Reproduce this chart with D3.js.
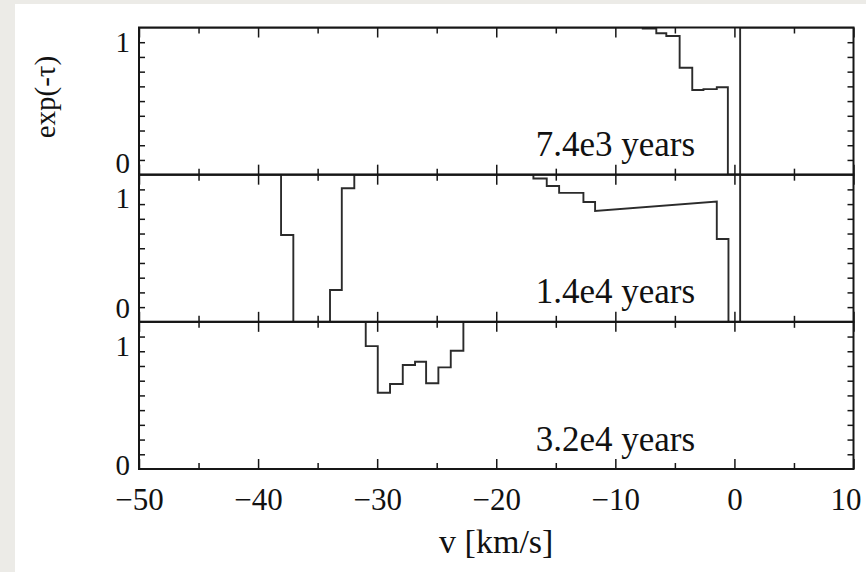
<!DOCTYPE html>
<html>
<head>
<meta charset="utf-8">
<script src="https://cdn.jsdelivr.net/npm/d3@7"></script>
<style>
  html, body { margin: 0; padding: 0; background: #ecebe7; }
  svg { display: block; }
  text { font-family: "Liberation Serif", "Times New Roman", serif; fill: #111; }
</style>
</head>
<body>
<svg id="chart" width="866" height="572"></svg>
<script>
// ---------- data ----------
const panelLabels = ["7.4e3 years", "1.4e4 years", "3.2e4 years"];
const xMajorTicks = [-50, -40, -30, -20, -10, 0, 10];
const xMinorTicks = [-45, -35, -25, -15, -5, 5];
const yMinorTicks = [0, 0.125, 0.25, 0.375, 0.5, 0.625, 0.75, 0.875, 1];
const yTickLabels = [0, 1];
const xTitle = "v [km/s]";
const yTitle = "exp(-\u03C4)";

// panel 1 (7.4e3 years): vertices of the step profile
const p1V = [-50, -7.7, -7.7, -6.56, -6.56, -5.72, -5.72, -4.6, -4.6, -3.54, -3.54, -2.6, -2.6, -1.48, -1.48, -0.55, -0.55, 0.48, 0.48, 10];
const p1T = [1.125, 1.125, 1.116, 1.116, 1.076, 1.076, 1.053, 1.053, 0.783, 0.783, 0.594, 0.594, 0.602, 0.602, 0.617, 0.617, -0.125, -0.125, 1.125, 1.125];

// panel 2 (1.4e4 years)
const p2V = [-50, -38.07, -38.07, -37.04, -37.04, -33.96, -33.96, -32.97, -32.97, -31.92, -31.92, -16.88, -16.88, -15.76, -15.76, -14.72, -14.72, -12.68, -12.68, -11.7, -11.7, -1.48, -1.48, -0.5, -0.5, 0.48, 0.48, 10];
const p2T = [1.125, 1.125, 0.613, 0.613, -0.125, -0.125, 0.145, 0.145, 1.009, 1.009, 1.125, 1.125, 1.093, 1.093, 1.029, 1.029, 0.97, 0.97, 0.893, 0.893, 0.817, 0.897, 0.579, 0.579, -0.125, -0.125, 1.125, 1.125];

// panel 3 (3.2e4 years)
const p3V = [-50, -30.96, -30.96, -29.95, -29.95, -28.92, -28.92, -27.85, -27.85, -26.82, -26.82, -25.89, -25.89, -24.86, -24.86, -23.82, -23.82, -22.76, -22.76, 10];
const p3T = [1.125, 1.125, 0.919, 0.919, 0.523, 0.523, 0.597, 0.597, 0.758, 0.758, 0.786, 0.786, 0.603, 0.603, 0.738, 0.738, 0.879, 0.879, 1.125, 1.125];

const panelsV = [p1V, p2V, p3V];
const panelsT = [p1T, p2T, p3T];

// ---------- layout ----------
const W = 866, H = 572;
const L = 139, R = 853.5, T = 27.5, B = 469;
const panelH = (B - T) / 3;
const ink = "#161616";
const lineInk = "#2b2b2b";
const labelDy1 = [-1, 8, 9];     // vertical nudges of the "1" labels (px)
const labelDy0 = [3, 0, 10];     // vertical nudges of the "0" labels (px)

const svg = d3.select("#chart");

// card
svg.append("rect").attr("x", 0).attr("y", 0).attr("width", W).attr("height", H).attr("fill", "#ecebe7");
svg.append("rect").attr("x", 15).attr("y", 4).attr("width", W - 15).attr("height", H - 4).attr("fill", "#ffffff");

const x = d3.scaleLinear().domain([-50, 10]).range([L, R]);

const defs = svg.append("defs");

panelsV.forEach((vs, i) => {
  const top = T + i * panelH, bot = top + panelH;
  const y = d3.scaleLinear().domain([-0.125, 1.125]).range([bot, top]);
  const g = svg.append("g");

  defs.append("clipPath").attr("id", "clip" + i)
    .append("rect").attr("x", L).attr("y", top).attr("width", R - L).attr("height", panelH);

  const pts = vs.map((v, k) => [v, panelsT[i][k]]);
  g.append("path")
    .attr("clip-path", `url(#clip${i})`)
    .attr("d", d3.line().x(d => x(d[0])).y(d => y(d[1]))(pts))
    .attr("fill", "none").attr("stroke", lineInk).attr("stroke-width", 1.9)
    .attr("stroke-linejoin", "miter");

  const tickStyle = sel => {
    sel.select(".domain").remove();
    sel.selectAll(".tick line").attr("stroke", ink).attr("stroke-width", 1.5);
    sel.selectAll(".tick text").remove();
  };
  g.append("g").attr("transform", `translate(0,${top})`)
    .call(d3.axisBottom(x).tickValues(xMajorTicks).tickSize(10)).call(tickStyle);
  g.append("g").attr("transform", `translate(0,${top})`)
    .call(d3.axisBottom(x).tickValues(xMinorTicks).tickSize(6)).call(tickStyle);
  g.append("g").attr("transform", `translate(0,${bot})`)
    .call(d3.axisTop(x).tickValues(xMajorTicks).tickSize(10)).call(tickStyle);
  g.append("g").attr("transform", `translate(0,${bot})`)
    .call(d3.axisTop(x).tickValues(xMinorTicks).tickSize(6)).call(tickStyle);

  g.append("g").attr("transform", `translate(${L},0)`)
    .call(d3.axisRight(y).tickValues(yMinorTicks).tickSize(6)).call(tickStyle);
  g.append("g").attr("transform", `translate(${R},0)`)
    .call(d3.axisLeft(y).tickValues(yMinorTicks).tickSize(6)).call(tickStyle);

  const yl = g.append("g").attr("transform", `translate(${L},0)`)
    .call(d3.axisLeft(y).tickValues(yTickLabels).tickSize(0).tickPadding(9).tickFormat(d3.format("d")));
  yl.select(".domain").remove();
  yl.attr("font-family", null);
  yl.selectAll(".tick text")
    .attr("font-size", 29)
    .attr("dy", d => (d === 1 ? labelDy1[i] : labelDy0[i]) + 10 + "px")
    .attr("fill", ink);

  g.append("text")
    .attr("x", x(-10)).attr("y", bot - 18.5)
    .attr("text-anchor", "middle")
    .attr("font-size", 35)
    .text(panelLabels[i]);

  g.append("rect")
    .attr("x", L).attr("y", top).attr("width", R - L).attr("height", panelH)
    .attr("fill", "none").attr("stroke", ink).attr("stroke-width", 2);

  if (i === 2) {
    const xl = g.append("g").attr("transform", `translate(0,${bot})`)
      .call(d3.axisBottom(x).tickValues(xMajorTicks).tickSize(0));
    xl.select(".domain").remove();
    xl.attr("font-family", null);
    xl.selectAll(".tick text")
      .attr("font-size", 31).attr("dy", null).attr("y", 41).attr("fill", ink)
      .attr("dx", d => (d === 10 ? -8 : 0));
  }
});

svg.append("text")
  .attr("x", (L + R) / 2).attr("y", 553)
  .attr("text-anchor", "middle").attr("font-size", 34)
  .text(xTitle);

svg.append("text")
  .attr("transform", `translate(55,${T + panelH / 2 - 4}) rotate(-90)`)
  .attr("text-anchor", "middle").attr("font-size", 29)
  .text(yTitle);
</script>
</body>
</html>
